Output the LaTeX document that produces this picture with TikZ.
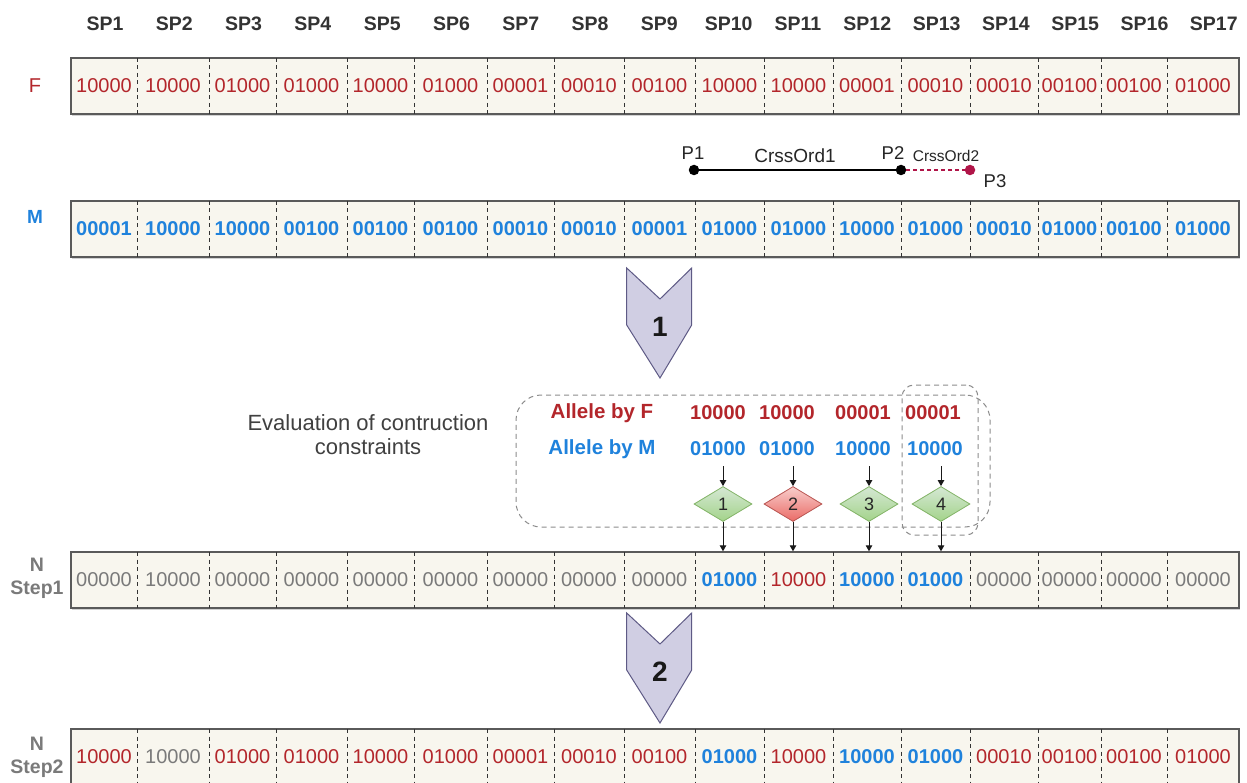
\documentclass[tikz,border=0pt]{standalone}
\usepackage{fontspec}
\setmainfont{Liberation Sans}
\usetikzlibrary{shapes.geometric,arrows.meta,shadows}
\definecolor{fred}{HTML}{B3262B}
\definecolor{mblue}{HTML}{1F82DC}
\definecolor{ngray}{HTML}{7A7A7A}
\definecolor{cream}{HTML}{F8F6EE}
\definecolor{chevfill}{HTML}{D0CEE3}
\definecolor{chevline}{HTML}{5E5A85}
\definecolor{crim}{HTML}{B01548}
\definecolor{hdrgray}{HTML}{333333}
\definecolor{boxline}{HTML}{5A5A5A}
\definecolor{grnline}{HTML}{82B366}
\definecolor{grntop}{HTML}{D5E8D4}
\definecolor{grnbot}{HTML}{A3D38A}
\definecolor{redline}{HTML}{B85450}
\definecolor{redtop}{HTML}{F8CECC}
\definecolor{redbot}{HTML}{EA6B66}
\newcommand{\vfont}{\fontsize{20}{24}\selectfont}
\def\cxs{{104,173,242.5,311.5,380.5,450.5,520.5,589,659.5,729.5,798.5,867,935.5,1004,1069.5,1134,1203}}
\def\dxs{{71,137,209,276,347,414,487,554,624,695,764,833,901,970,1038,1101,1167,1239}}
\tikzset{
  rowbox/.style={draw=boxline, line width=1.4pt, fill=cream, minimum width=1168, minimum height=56, inner sep=0pt,
    drop shadow={shadow xshift=1.2pt, shadow yshift=-1.6pt, opacity=.35, fill=gray}},
  divider/.style={draw=black!80, line width=1pt, dash pattern=on 4pt off 3.5pt},
  fv/.style={font=\vfont, text=fred, inner sep=0pt},
  mv/.style={font=\vfont\bfseries, text=mblue, inner sep=0pt},
  nv/.style={font=\vfont, text=ngray, inner sep=0pt},
  hdr/.style={font=\fontsize{19.5}{23}\selectfont\bfseries, text=hdrgray, inner sep=0pt},
  dot/.style={circle, fill=black, minimum size=10.5pt, inner sep=0pt},
  plab/.style={font=\fontsize{18.5}{22}\selectfont, text=black!85, inner sep=0pt},
  chev/.style={draw=chevline, fill=chevfill, line width=1pt, line join=miter},
  chevnum/.style={font=\fontsize{28}{32}\selectfont\bfseries, text=black!90, inner sep=0pt},
  evalbox/.style={draw=black!45, dash pattern=on 5pt off 4pt, line width=1pt, inner sep=0pt},
  dgreen/.style={diamond, draw=grnline, line width=0.8pt, top color=grntop, bottom color=grnbot,
    minimum width=58, minimum height=35, inner sep=0pt, font=\fontsize{18}{20}\selectfont, text=black!85},
  dred/.style={diamond, draw=redline, line width=0.8pt, top color=redtop, bottom color=redbot,
    minimum width=58, minimum height=35, inner sep=0pt, font=\fontsize{18}{20}\selectfont, text=black!85},
  arr/.style={draw=black!90, line width=0.9pt, -{Triangle[length=6pt,width=6.5pt]}},
  allab/.style={font=\fontsize{20.5}{24}\selectfont\bfseries, inner sep=0pt},
  alval/.style={font=\vfont\bfseries, inner sep=0pt},
}
\newcommand{\myrow}[3]{%
  \node[rowbox] (#1) at (655,#2+28) {};
  \foreach \k in {2,...,17} {\pgfmathsetmacro\dx{\dxs[\k-1]}\draw[divider] (\dx,#2) -- (\dx,#2+56);}
  \foreach \v/\s [count=\i] in {#3} {\pgfmathsetmacro\cx{\cxs[\i-1]}\node[\s] (#1c\i) at (\cx,#2+28) {\v};}
}
\begin{document}
\begin{tikzpicture}[x=1pt,y=-1pt]
\useasboundingbox (0,0) rectangle (1247,783);
\clip (0,0) rectangle (1247,783);
\fill[white] (0,0) rectangle (1247,783);
% header
\foreach \i in {1,...,17} {\pgfmathsetmacro\hx{105+69.3*(\i-1)}\node[hdr] (sp\i) at (\hx,24) {SP\i};}
% left labels
\node[font=\fontsize{20}{24}\selectfont, text=fred, inner sep=0pt] (lf) at (35,86) {F};
\node[font=\fontsize{19}{23}\selectfont\bfseries, text=mblue, inner sep=0pt] (lm) at (35,217) {M};
\node[font=\fontsize{19.5}{23}\selectfont\bfseries, text=ngray, align=center, inner sep=0pt] (ln1) at (37,578) {N\\Step1};
\node[font=\fontsize{19.5}{23}\selectfont\bfseries, text=ngray, align=center, inner sep=0pt] (ln2) at (37,757) {N\\Step2};
% rows
\myrow{frow}{58}{10000/fv,10000/fv,01000/fv,01000/fv,10000/fv,01000/fv,00001/fv,00010/fv,00100/fv,10000/fv,10000/fv,00001/fv,00010/fv,00010/fv,00100/fv,00100/fv,01000/fv}
\myrow{mrow}{201}{00001/mv,10000/mv,10000/mv,00100/mv,00100/mv,00100/mv,00010/mv,00010/mv,00001/mv,01000/mv,01000/mv,10000/mv,01000/mv,00010/mv,01000/mv,00100/mv,01000/mv}
\myrow{nrowa}{552}{00000/nv,10000/nv,00000/nv,00000/nv,00000/nv,00000/nv,00000/nv,00000/nv,00000/nv,01000/mv,10000/fv,10000/mv,01000/mv,00000/nv,00000/nv,00000/nv,00000/nv}
\myrow{nrowb}{729}{10000/fv,10000/nv,01000/fv,01000/fv,10000/fv,01000/fv,00001/fv,00010/fv,00100/fv,01000/mv,10000/fv,10000/mv,01000/mv,00010/fv,00100/fv,00100/fv,01000/fv}
% crossover points
\node[dot] (p1) at (694,170) {};
\node[dot] (p2) at (901,170) {};
\node[dot, fill=crim] (p3) at (970,170) {};
\draw[line width=1.2pt] (p1) -- (p2);
\draw[crim, line width=1.3pt, dash pattern=on 4pt off 3pt] (p2) -- (p3);
\node[plab] (lp1) at (693,153) {P1};
\node[plab] (lp2) at (893,153) {P2};
\node[plab] (lp3) at (995,181) {P3};
\node[plab, font=\fontsize{19}{22}\selectfont] (lc1) at (795,156) {CrssOrd1};
\node[plab, font=\fontsize{15.5}{18}\selectfont] (lc2) at (946,156) {CrssOrd2};
% chevrons
\draw[chev] (626.7,268) -- (660,299) -- (691.7,268) -- (691.7,325) -- (660,378) -- (626.7,325) -- cycle;
\node[chevnum] (cn1) at (660,327) {1};
\draw[chev] (626.7,613) -- (660,644) -- (691.7,613) -- (691.7,670) -- (660,723) -- (626.7,670) -- cycle;
\node[chevnum] (cn2) at (660,672) {2};
% evaluation
\node[font=\fontsize{22}{24}\selectfont, text=black!75, align=center, inner sep=0pt] (evtxt) at (368,435) {Evaluation of contruction\\constraints};
\node[evalbox, rounded corners=25pt, minimum width=474, minimum height=132] (ebox) at (753,461) {};
\node[evalbox, rounded corners=12pt, minimum width=76, minimum height=150] (sbox) at (940,460) {};
\node[allab, text=fred] (alf) at (602,413) {Allele by F};
\node[allab, text=mblue] (alm) at (602,449) {Allele by M};
\node[alval, text=fred] (af1) at (718,413) {10000};
\node[alval, text=fred] (af2) at (787,413) {10000};
\node[alval, text=fred] (af3) at (863,413) {00001};
\node[alval, text=fred] (af4) at (933,413) {00001};
\node[alval, text=mblue] (am1) at (718,449) {01000};
\node[alval, text=mblue] (am2) at (787,449) {01000};
\node[alval, text=mblue] (am3) at (863,449) {10000};
\node[alval, text=mblue] (am4) at (935,449) {10000};
\node[dgreen] (d1) at (723,504) {1};
\node[dred] (d2) at (793,504) {2};
\node[dgreen] (d3) at (869,504) {3};
\node[dgreen] (d4) at (941,504) {4};
\foreach \j in {1,...,4} {
  \coordinate (t\j) at ([yshift=20pt]d\j.north);
  \draw[arr] (t\j) -- (d\j.north);
  \draw[arr] (d\j.south) -- (d\j.south |- nrowa.north);
}
\end{tikzpicture}
\end{document}
